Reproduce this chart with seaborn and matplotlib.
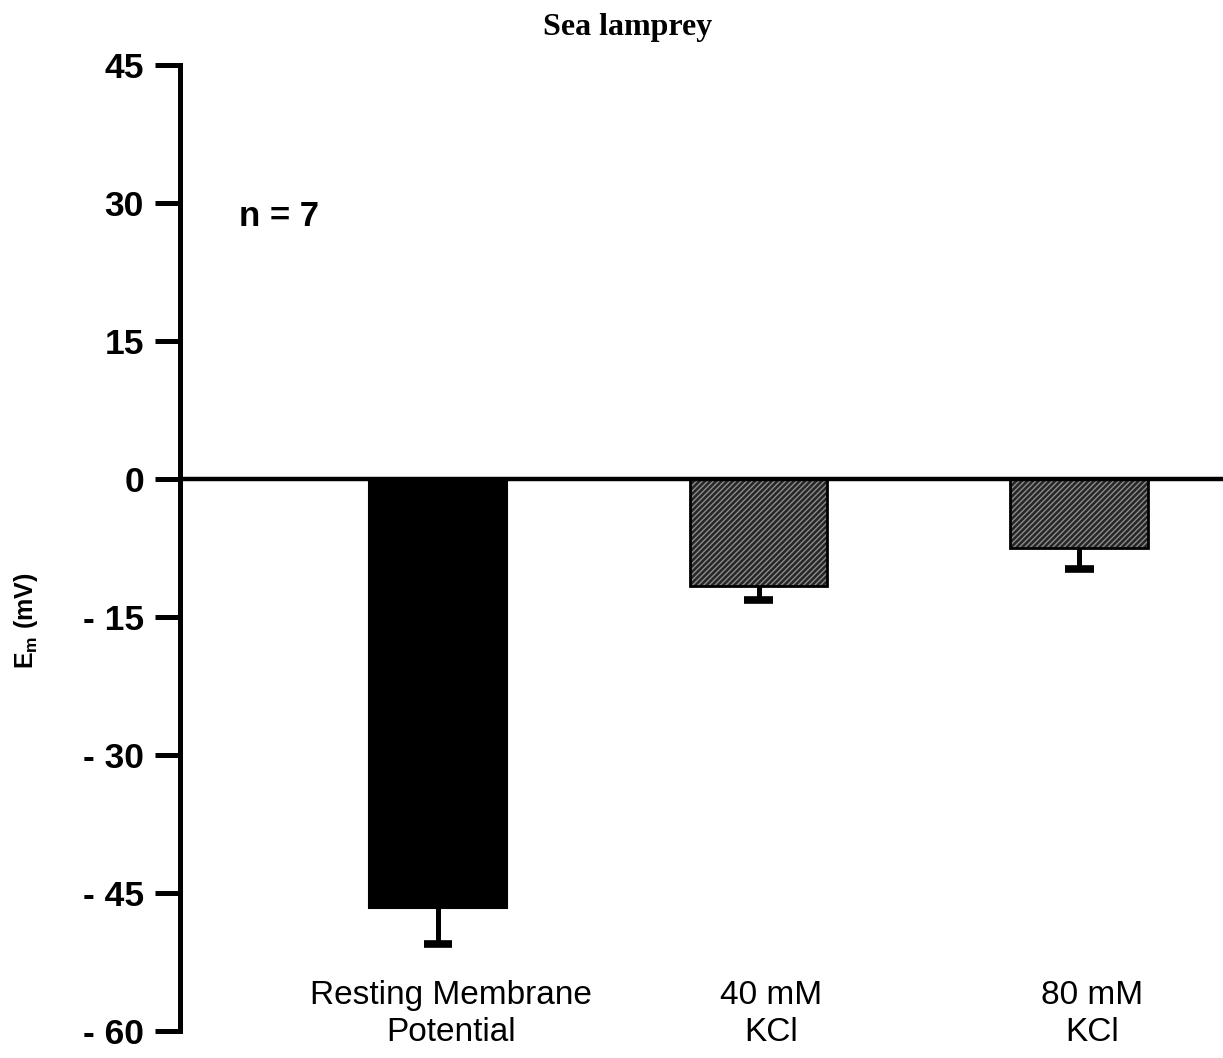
import matplotlib
matplotlib.use("Agg")
import matplotlib.pyplot as plt
import seaborn as sns
import pandas as pd

# Membrane potential (mV) and SEM for each condition
conditions = ["Resting Membrane\nPotential", "40 mM\nKCl", "80 mM\nKCl"]
em_mean = [-46.6, -11.6, -7.5]
em_sem = [3.9, 1.5, 2.3]
y_ticks = [45, 30, 15, 0, -15, -30, -45, -60]
y_tick_labels = ["45", "30", "15", "0", "- 15", "- 30", "- 45", "- 60"]

sns.set_theme(style="white")
plt.rcParams["font.family"] = ["Liberation Sans", "DejaVu Sans"]
plt.rcParams["mathtext.fontset"] = "custom"
plt.rcParams["mathtext.rm"] = "Liberation Sans:bold"
plt.rcParams["mathtext.bf"] = "Liberation Sans:bold"
plt.rcParams["hatch.linewidth"] = 1.0
for key in ["text.color", "axes.labelcolor", "xtick.color", "ytick.color",
            "axes.edgecolor"]:
    plt.rcParams[key] = "black"

df = pd.DataFrame({"condition": conditions, "em": em_mean})

fig = plt.figure(figsize=(12.23, 10.58), dpi=100)
ax = fig.add_axes([0.1472, 0.0255, 0.8528, 0.9131])

sns.barplot(data=df, x="condition", y="em", order=conditions,
            color="black", width=0.43, errorbar=None, ax=ax,
            edgecolor="black", linewidth=1.5)

for i, patch in enumerate(list(ax.patches)):
    if i == 0:
        patch.set_facecolor("black")
    else:
        patch.set_facecolor("#262626")
        patch.set_hatch("//////")
        patch.set_edgecolor("#8c8c8c")
        patch.set_linewidth(0)
        # outline drawn separately so the hatch can stay light
        x0, w = patch.get_x(), patch.get_width()
        ax.add_patch(plt.Rectangle((x0, 0), w, patch.get_height(),
                                   fill=False, edgecolor="black", lw=2.0))

# one-sided (downward) error bars: stem plus a cap at the lower end
xs = list(range(len(conditions)))
lows = [m - s for m, s in zip(em_mean, em_sem)]
ax.vlines(xs, em_mean, lows, colors="black", lw=3.6, zorder=4)
cap_half = 0.045
ax.hlines(lows, [x - cap_half for x in xs], [x + cap_half for x in xs],
          colors="black", lw=5.5, zorder=4)

ax.axhline(0, color="black", lw=3.2, zorder=5)

ax.set_ylim(-60, 45)
ax.set_xlim(-0.805, 2.449)
ax.set_yticks(y_ticks)
ax.set_yticklabels(y_tick_labels, fontsize=25.5, fontweight="bold")
ax.tick_params(axis="y", direction="out", length=18, width=3.6, pad=8,
               left=True, color="black", labelcolor="black")
ax.tick_params(axis="x", bottom=False, labelbottom=False)
ax.set_xlabel("")
ax.set_ylabel(r"E$_\mathrm{m}$ (mV)", fontsize=18, fontweight="bold")
ax.yaxis.set_label_coords(-0.134, 0.425)

for side in ["top", "right", "bottom"]:
    ax.spines[side].set_visible(False)
ax.spines["left"].set_linewidth(3.6)
ax.spines["left"].set_color("black")

# category labels inside the plot area, near the bottom
for i, lab in enumerate(conditions):
    ax.text(i + 0.04, -58.1, lab, ha="center", va="center", fontsize=24,
            linespacing=1.25, color="black")

ax.text(-0.62, 28.5, "n = 7", ha="left", va="center", fontsize=25,
        fontweight="bold", color="black")

fig.text(0.513, 0.974, "Sea lamprey", ha="center", va="center",
         fontsize=23, fontweight="bold", family="Liberation Serif",
         color="black")

fig.savefig("out.png", dpi=100)
